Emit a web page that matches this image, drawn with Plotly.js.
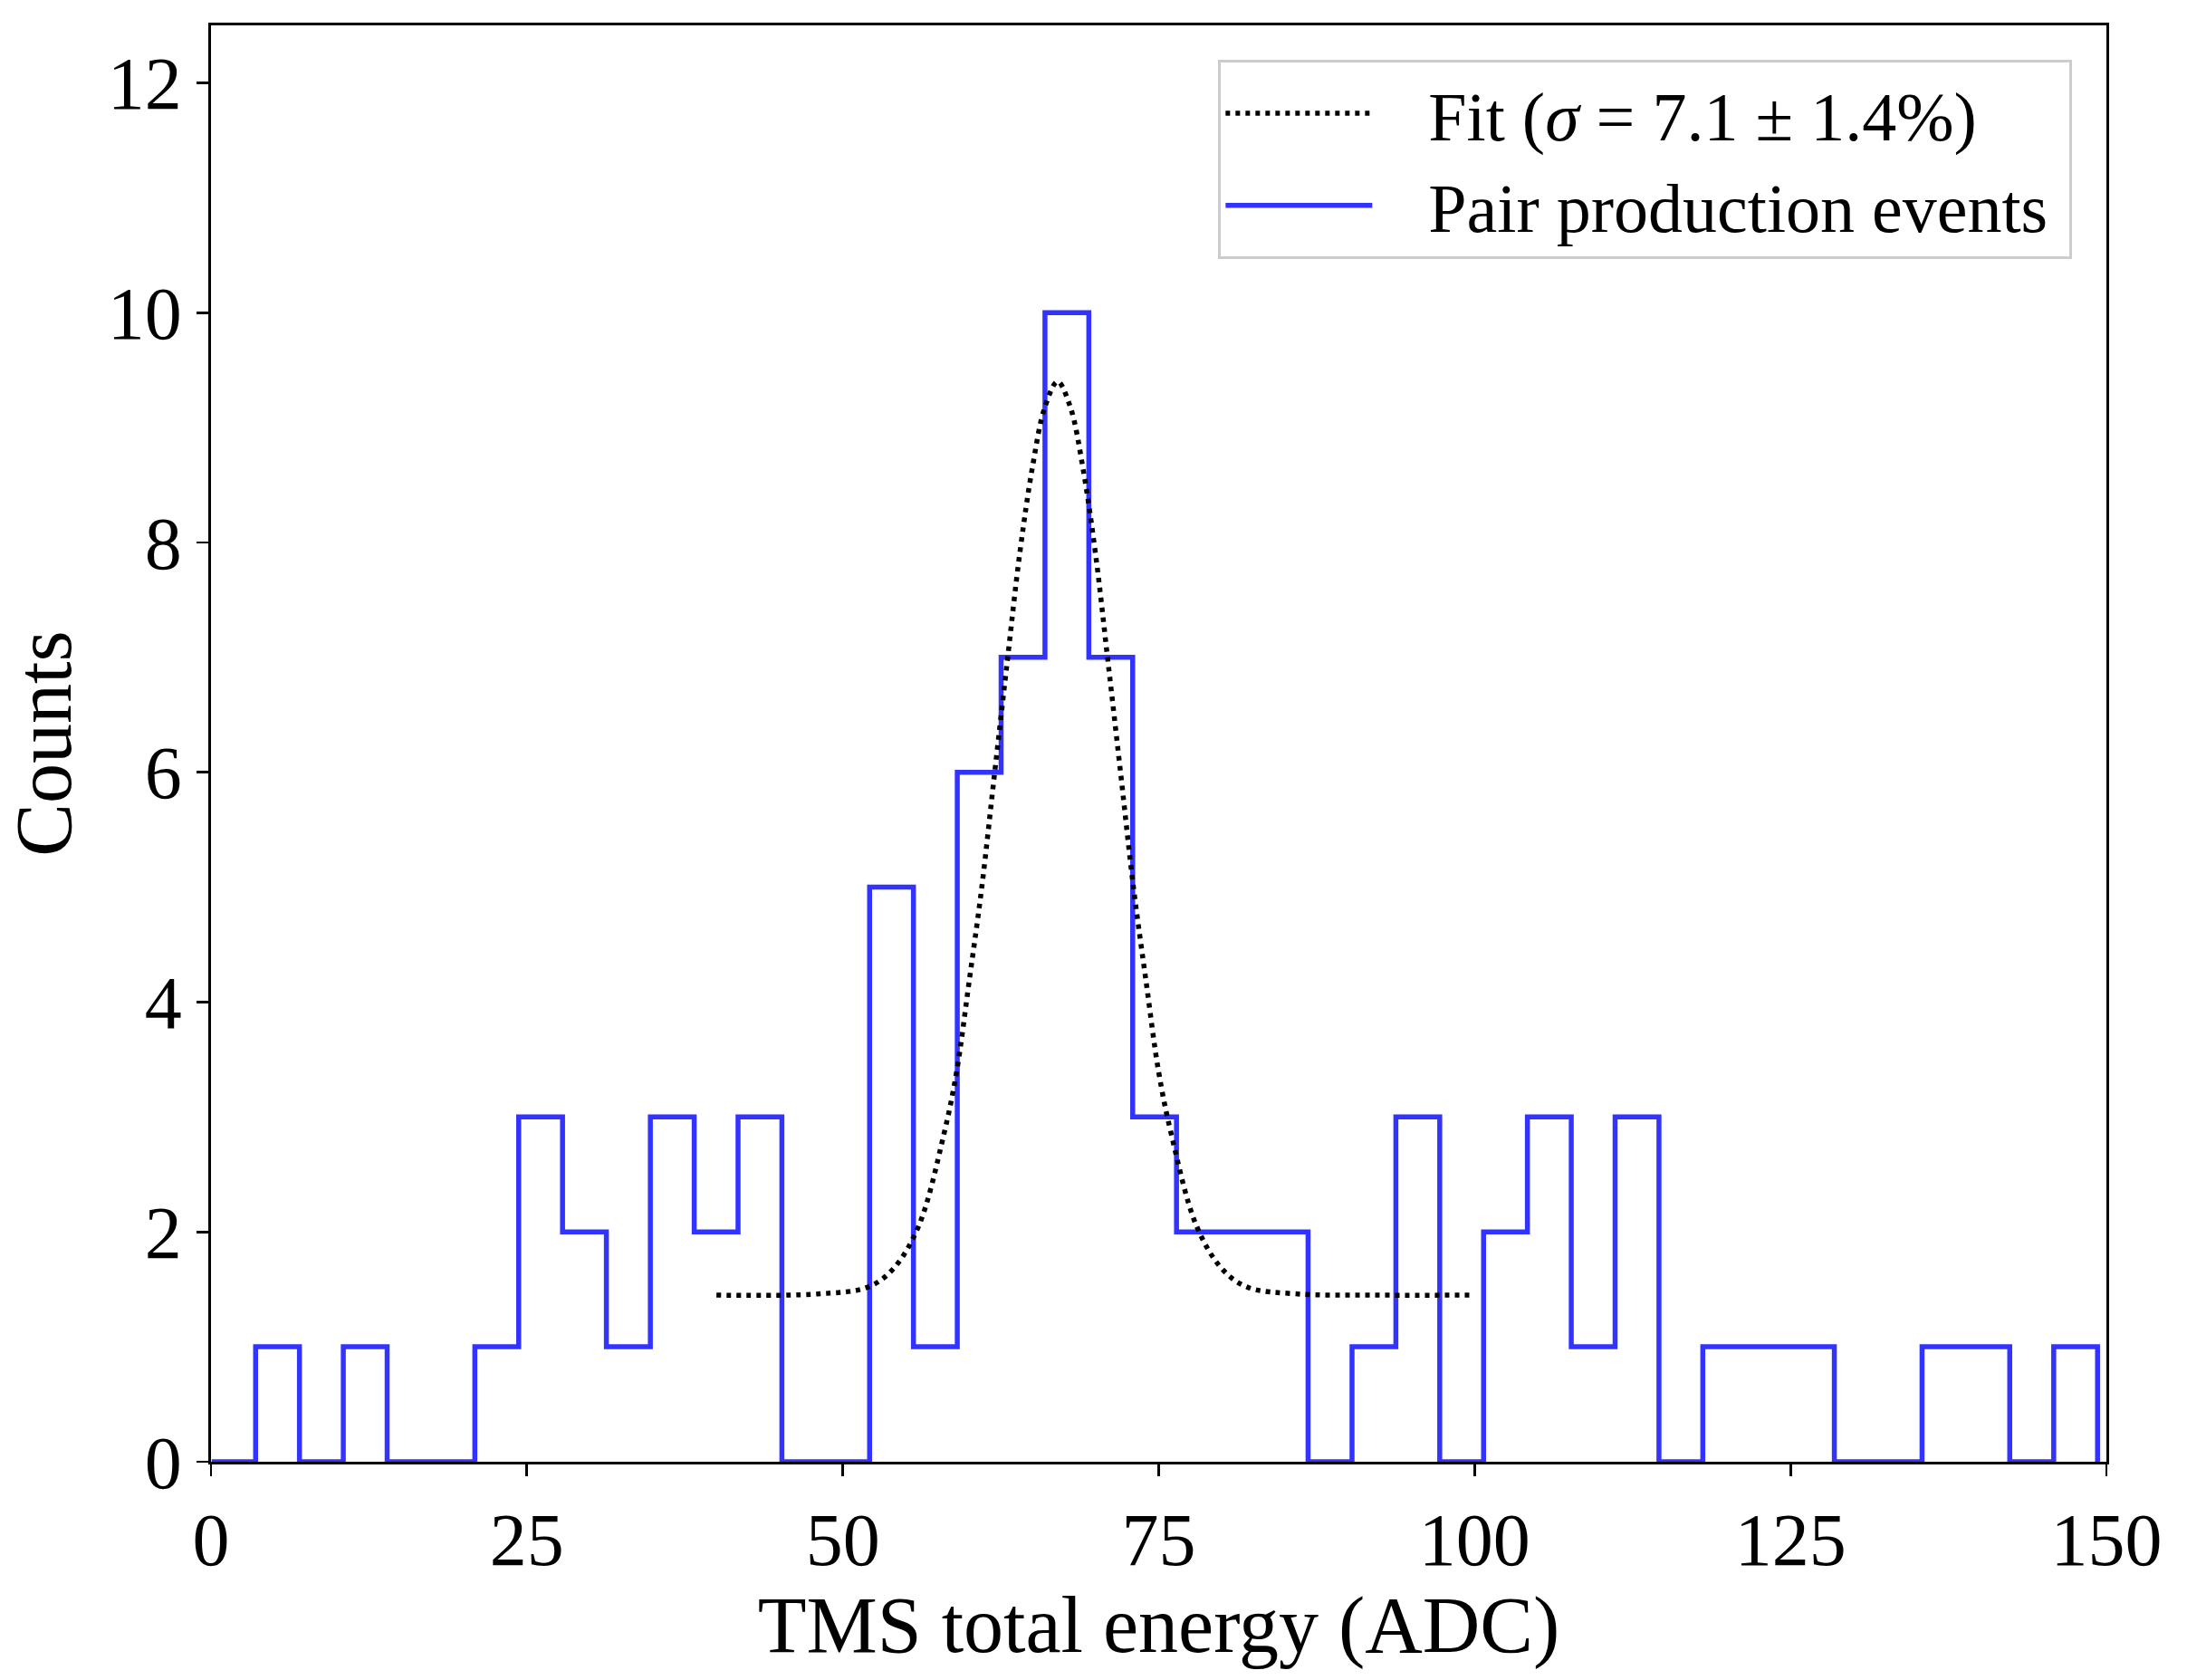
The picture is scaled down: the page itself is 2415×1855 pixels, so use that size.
<!DOCTYPE html>
<html>
<head>
<meta charset="utf-8">
<script src="https://cdn.plot.ly/plotly-3.0.1.min.js"></script>
<style>
  html, body { margin: 0; padding: 0; background: #fff; }
  #plot { width: 2415px; height: 1855px; }
</style>
</head>
<body>
<div id="plot"></div>
<script>
// histogram bin edges and counts
const binEdges = [0.06, 3.53, 7.00, 10.47, 13.94, 17.41, 20.88, 24.35, 27.82, 31.29,
  34.77, 38.24, 41.71, 45.18, 48.65, 52.12, 55.59, 59.06, 62.53, 66.00,
  69.47, 72.94, 76.41, 79.88, 83.35, 86.82, 90.30, 93.77, 97.24, 100.71,
  104.18, 107.65, 111.12, 114.59, 118.06, 121.53, 125.00, 128.47, 131.94, 135.41,
  138.88, 142.35, 145.83, 149.30];
const counts = [0, 1, 0, 1, 0, 0, 1, 3, 2, 1,
  3, 2, 3, 0, 0, 5, 1, 6, 7, 10,
  7, 3, 2, 2, 2, 0, 1, 3, 0, 2,
  3, 1, 3, 0, 1, 1, 1, 0, 0, 1,
  1, 0, 1];

// fitted curve
const fitX = [40, 48, 52, 54, 56, 58, 59, 60, 61, 62, 63, 64, 65, 66, 67,
  68, 69, 70, 71, 72, 73, 74, 75, 76, 78, 80, 82, 86, 92, 100];
const fitY = [1.45, 1.46, 1.52, 1.68, 2.05, 2.85, 3.39, 4.18, 5.00, 5.98, 6.95, 7.90, 8.65, 9.18, 9.40,
  9.18, 8.65, 7.90, 6.95, 5.98, 5.00, 4.18, 3.39, 2.85, 2.05, 1.68, 1.52, 1.46, 1.45, 1.45];

const xTicks = [0, 25, 50, 75, 100, 125, 150];
const yTicks = [0, 2, 4, 6, 8, 10, 12];

const FONT = '"Liberation Serif", "DejaVu Serif", serif';
const GAP = '\u00a0\u00a0\u00a0';

const hist = {
  x: binEdges,
  y: counts.concat([0]),
  type: 'scatter',
  mode: 'lines',
  line: {shape: 'hv', color: '#3333ff', width: 5.5},
  name: GAP + 'Pair production events\u00a0',
  legendrank: 2
};

const fit = {
  x: fitX,
  y: fitY,
  type: 'scatter',
  mode: 'lines',
  line: {shape: 'spline', color: '#000000', width: 5.5, dash: '5px,6px'},
  name: GAP + 'Fit (<i>σ</i> = 7.1 ± 1.4%)',
  legendrank: 1
};

const axisCommon = {
  showline: true,
  mirror: true,
  linecolor: '#000',
  linewidth: 2.8,
  ticks: 'outside',
  ticklen: 13,
  tickwidth: 2.8,
  tickcolor: '#000',
  showgrid: false,
  zeroline: false,
  tickfont: {family: FONT, size: 82, color: '#000'}
};

const layout = {
  width: 2415,
  height: 1855,
  margin: {l: 233, r: 89, t: 28, b: 241},
  paper_bgcolor: '#fff',
  plot_bgcolor: '#fff',
  font: {family: FONT, color: '#000'},
  showlegend: true,
  legend: {
    x: 0.982, y: 0.976, xanchor: 'right', yanchor: 'top',
    bgcolor: 'rgba(255,255,255,0.8)',
    bordercolor: '#cccccc',
    borderwidth: 3,
    itemwidth: 162,
    font: {family: FONT, size: 76, color: '#000'}
  },
  xaxis: Object.assign({}, axisCommon, {
    range: [0, 150],
    tickvals: xTicks,
    ticktext: xTicks.map(String),
    title: {text: 'TMS total energy (ADC)', font: {family: FONT, size: 88, color: '#000'}, standoff: 0}
  }),
  yaxis: Object.assign({}, axisCommon, {
    range: [0, 12.5],
    tickvals: yTicks,
    ticktext: yTicks.map(String),
    title: {text: 'Counts', font: {family: FONT, size: 88, color: '#000'}, standoff: 17}
  })
};

Plotly.newPlot('plot', [hist, fit], layout, {displayModeBar: false, staticPlot: true});
</script>
</body>
</html>
